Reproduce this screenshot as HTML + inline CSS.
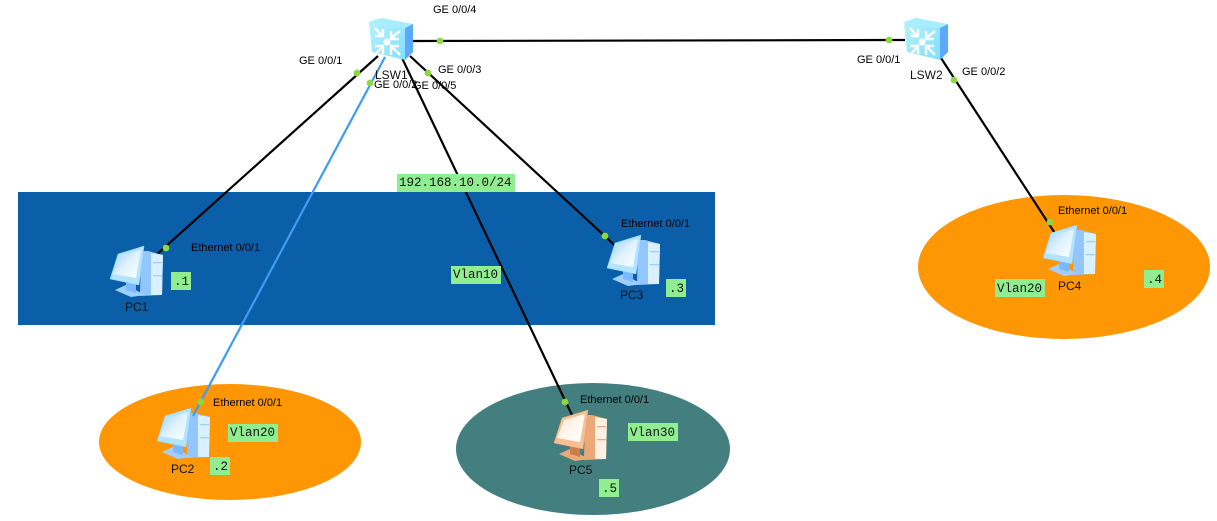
<!DOCTYPE html>
<html>
<head>
<meta charset="utf-8">
<style>
html,body{margin:0;padding:0;background:#fff;width:1217px;height:521px;overflow:hidden}
svg{display:block}
.t{font-family:"Liberation Sans",sans-serif;font-size:11px;fill:#000}
.n{font-family:"Liberation Sans",sans-serif;font-size:12px;fill:#111}
.m{font-family:"Liberation Mono",monospace;font-size:12.5px;fill:#111}
</style>
</head>
<body>
<svg width="1217" height="521" viewBox="0 0 1217 521" xmlns="http://www.w3.org/2000/svg">
<defs>
<linearGradient id="sw" x1="0" y1="0" x2="1" y2="1"><stop offset="0" stop-color="#b4f0ff"/><stop offset="1" stop-color="#82e0fb"/></linearGradient>
<linearGradient id="mon" x1="0" y1="0" x2="1" y2="1"><stop offset="0" stop-color="#9ccdff"/><stop offset=".5" stop-color="#dff2ff"/><stop offset="1" stop-color="#ffffff"/></linearGradient>
<linearGradient id="mon2" x1="0" y1="0" x2="1" y2="1"><stop offset="0" stop-color="#fde0c4"/><stop offset=".5" stop-color="#fff6ec"/><stop offset="1" stop-color="#ffffff"/></linearGradient>
<g id="switch">
<polygon points="0,4 12,0 44,6 36,10" fill="#a6eeff"/>
<polygon points="36,10 44,6 44,34 36,42" fill="#5aa9fb"/>
<polygon points="0,4 36,10 36,42 3,34" fill="url(#sw)"/>
<circle cx="18" cy="24" r="3.6" fill="#fff"/>
<g fill="none" stroke="#fff" stroke-width="2.4">
<path d="M6,10 L14,19 M6,18 H14 V11"/>
<path d="M31,13 L22,20 M30,21 H22 V13"/>
<path d="M6,37 L14,28 M6,28 H14 V36"/>
<path d="M31,37 L22,28 M30,28 H22 V37"/>
</g>
</g>
<g id="pc">
<polygon points="31,4 38,4 53,8 52,48 30,49" fill="#93c6ff"/>
<polygon points="41,6 53,8 52,48 41,48" fill="#d8f0ff"/>
<rect x="43" y="15" width="9" height="1.3" fill="#9fcfff"/>
<rect x="43" y="28" width="9" height="1.3" fill="#9fcfff"/>
<polygon points="5,43 16,38 35,48 21,50" fill="#9fcfff"/>
<polygon points="16,32 26,34 26,46 16,43" fill="#7db7ff"/>
<polygon points="8,7 34,-1 29,38 0,32" fill="#b2e4ff" stroke="#8fd0fb" stroke-width=".5"/>
<polygon points="10,9 31,3 26,31 3,27" fill="url(#mon)"/>
</g>
<g id="pco">
<polygon points="31,4 38,4 53,8 52,48 30,49" fill="#eda878"/>
<polygon points="41,6 53,8 52,48 41,48" fill="#fff1e2"/>
<rect x="43" y="15" width="9" height="1.3" fill="#eda878"/>
<rect x="43" y="28" width="9" height="1.3" fill="#eda878"/>
<polygon points="5,43 16,38 35,48 21,50" fill="#eda878"/>
<polygon points="16,32 26,34 26,46 16,43" fill="#c97e4c"/>
<polygon points="8,7 34,-1 29,38 0,32" fill="#f6bf95" stroke="#e9a877" stroke-width=".5"/>
<polygon points="10,9 31,3 26,31 3,27" fill="url(#mon2)"/>
</g>
</defs>

<rect x="18" y="192" width="697" height="133" fill="#0b5ea8"/>
<ellipse cx="230" cy="442" rx="131" ry="58" fill="#ff9604"/>
<ellipse cx="593" cy="449" rx="137" ry="66" fill="#437f7f"/>
<ellipse cx="1064" cy="267" rx="146" ry="72" fill="#ff9604"/>

<g fill="none" stroke="#000" stroke-width="2.2">
<line x1="378" y1="56" x2="155" y2="256"/>
<line x1="402" y1="58" x2="572" y2="415"/>
<line x1="410" y1="56" x2="622" y2="252"/>
<line x1="412" y1="41" x2="905" y2="40"/>
<line x1="941" y1="58" x2="1058" y2="238"/>
</g>

<use href="#pc" x="110" y="247"/>
<use href="#pc" x="157" y="409"/>
<use href="#pc" x="607" y="236"/>
<use href="#pc" x="1043" y="226"/>
<use href="#pco" x="554" y="411"/>
<line x1="385" y1="57" x2="193" y2="416" stroke="#3c9cf6" stroke-width="2.2"/>
<use href="#switch" x="369" y="18"/>
<use href="#switch" x="904" y="18"/>

<g fill="#8ed83f">
<circle cx="357" cy="73" r="3.4"/>
<circle cx="370" cy="83" r="3.4"/>
<circle cx="428" cy="73" r="3.4"/>
<circle cx="440" cy="41" r="3.4"/>
<circle cx="889" cy="40" r="3.4"/>
<circle cx="954" cy="80" r="3.4"/>
<circle cx="166" cy="248" r="3.4"/>
<circle cx="201" cy="402" r="3.4"/>
<circle cx="565" cy="402" r="3.4"/>
<circle cx="605" cy="236" r="3.4"/>
<circle cx="1050" cy="222" r="3.4"/>
</g>

<g class="t">
<text x="433" y="13">GE 0/0/4</text>
<text x="299" y="64">GE 0/0/1</text>
<text x="438" y="73">GE 0/0/3</text>
<text x="374" y="88">GE 0/0/2</text>
<text x="413" y="89">GE 0/0/5</text>
<text x="857" y="63">GE 0/0/1</text>
<text x="962" y="75">GE 0/0/2</text>
<text x="191" y="251">Ethernet 0/0/1</text>
<text x="621" y="227">Ethernet 0/0/1</text>
<text x="1058" y="214">Ethernet 0/0/1</text>
<text x="213" y="406">Ethernet 0/0/1</text>
<text x="580" y="403">Ethernet 0/0/1</text>
</g>
<g class="n">
<text x="375" y="79">LSW1</text>
<text x="910" y="79">LSW2</text>
<text x="125" y="311">PC1</text>
<text x="171" y="473">PC2</text>
<text x="620" y="299">PC3</text>
<text x="1058" y="290">PC4</text>
<text x="569" y="474">PC5</text>
</g>

<g fill="#90ee90">
<rect x="397" y="174" width="118" height="18"/>
<rect x="451" y="266" width="50" height="18"/>
<rect x="171" y="272" width="20" height="18"/>
<rect x="666" y="279" width="20" height="18"/>
<rect x="995" y="279" width="50" height="18"/>
<rect x="1144" y="270" width="20" height="18"/>
<rect x="228" y="424" width="50" height="18"/>
<rect x="210" y="457" width="20" height="18"/>
<rect x="628" y="423" width="50" height="18"/>
<rect x="599" y="479" width="20" height="18"/>
</g>
<g class="m">
<text x="399" y="186">192.168.10.0/24</text>
<text x="453" y="278">Vlan10</text>
<text x="174" y="285">.1</text>
<text x="669" y="292">.3</text>
<text x="997" y="292">Vlan20</text>
<text x="1147" y="283">.4</text>
<text x="230" y="436">Vlan20</text>
<text x="213" y="470">.2</text>
<text x="630" y="436">Vlan30</text>
<text x="602" y="492">.5</text>
</g>
</svg>
</body>
</html>
